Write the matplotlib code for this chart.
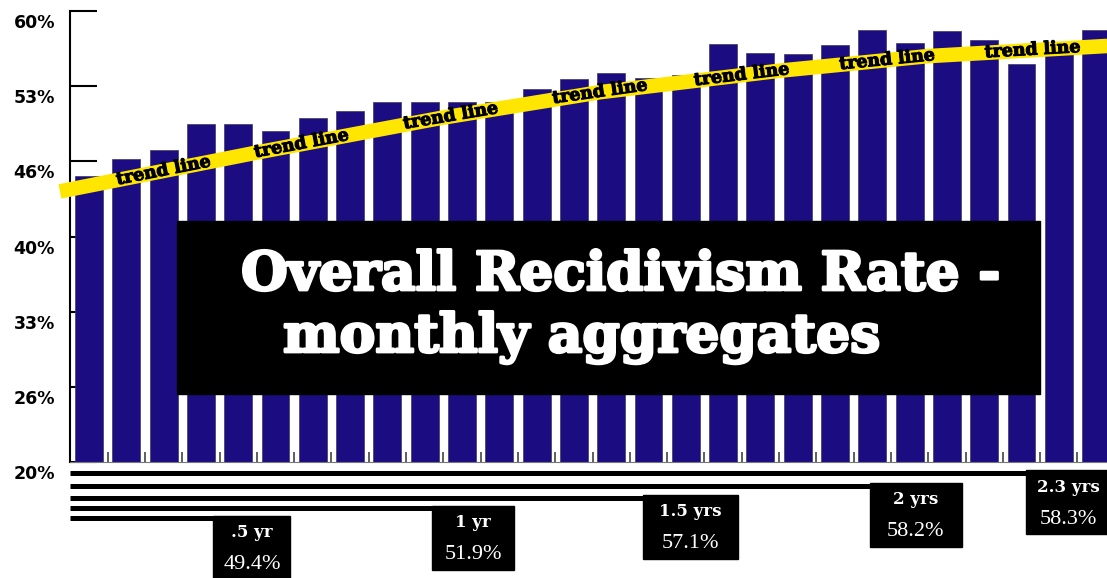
import matplotlib
matplotlib.use("Agg")
import matplotlib.pyplot as plt
import matplotlib.transforms as mtransforms
import matplotlib.patheffects as pe
from matplotlib.patches import Rectangle
import numpy as np

# monthly aggregate recidivism rate (%), months 1..28
months = np.arange(1, 29)
rates = [45.4, 46.9, 47.7, 50.0, 50.0, 49.4, 50.5, 51.1, 51.9, 51.9,
         51.9, 51.9, 53.1, 54.0, 54.5, 54.1, 54.3, 57.1, 56.3, 56.2,
         57.0, 58.3, 57.2, 58.2, 57.4, 55.3, 57.1, 58.3]

# trend line
trend_months = [0.22, 5.58, 10.41, 14.7, 19.5, 23.5, 28.3]
trend_rates = [44.0, 47.5, 50.5, 52.8, 54.7, 56.0, 56.9]
trend_label_months = [3.0, 6.7, 10.7, 14.7, 18.5, 22.4, 26.3]

ytick_values = [20, 80 / 3, 100 / 3, 40, 140 / 3, 160 / 3, 60]
ytick_labels = ["20%", "26%", "33%", "40%", "46%", "53%", "60%"]

milestone_months = [6, 12, 18, 24, 28]
milestone_labels = [".5 yr", "1 yr", "1.5 yrs", "2 yrs", "2.3 yrs"]

title_lines = ["Overall Recidivism Rate -", "monthly aggregates"]

# layout (pixels)
W, H = 1107, 578
NAVY = "#1b0c82"
YELLOW = "#ffe600"
pitch = 37.3
stair_y = [56, 46, 35.5, 23.5, 10.5]
box_w_px = [77, 82, 95, 92, 85]


def px_rect(x0, y0, x1, y1):
    return [x0 / W, 1 - y1 / H, (x1 - x0) / W, (y1 - y0) / H]


fig = plt.figure(figsize=(W / 100, H / 100), dpi=100)
fig.patch.set_facecolor("white")

ax = fig.add_axes(px_rect(70, 11, 1107, 462))
m_left = 1 - 19 / pitch
m_right = 1 + (1107 - 89) / pitch
ax.set_xlim(m_left, m_right)
ax.set_ylim(20, 60)
ax.set_axisbelow(True)

ax.bar(months, rates, width=0.75, color=NAVY, edgecolor="#3c3a5c",
       linewidth=0.5, zorder=2)

for s in ["top", "right"]:
    ax.spines[s].set_visible(False)
ax.spines["left"].set_linewidth(1.5)
ax.spines["bottom"].set_linewidth(0.8)
ax.spines["bottom"].set_color("#777777")

ax.set_yticks(ytick_values, ytick_labels)
ax.tick_params(axis="y", direction="in", length=19.5, width=1.5, pad=10.8,
               labelsize=12.5)
offset = mtransforms.ScaledTranslation(0, -0.1, fig.dpi_scale_trans)
for lab in ax.get_yticklabels():
    lab.set_fontweight("bold")
    lab.set_transform(lab.get_transform() + offset)

ax.set_xticks(months[:-1] + 0.5)
ax.tick_params(axis="x", direction="in", length=7, width=1.2,
               color="#444444", labelbottom=False)

# trend band
ax.plot(trend_months, trend_rates, color=YELLOW, lw=10.5,
        solid_capstyle="butt", clip_on=False, zorder=3)
for m in trend_label_months:
    y = np.interp(m, trend_months, trend_rates)
    p1 = ax.transData.transform((m - 0.5, np.interp(m - 0.5, trend_months, trend_rates)))
    p2 = ax.transData.transform((m + 0.5, np.interp(m + 0.5, trend_months, trend_rates)))
    ang = np.degrees(np.arctan2(p2[1] - p1[1], p2[0] - p1[0]))
    ax.text(m, y, "trend line", rotation=ang, rotation_mode="anchor",
            ha="center", va="center", family="DejaVu Serif",
            fontweight="bold", fontsize=12.5, color="black", zorder=4,
            path_effects=[pe.withStroke(linewidth=0.8, foreground="black")])

# title box
fig.add_artist(Rectangle((177 / W, 1 - 394 / H), (1040 - 177) / W,
                         (394 - 221) / H, transform=fig.transFigure,
                         color="black", zorder=5))
title_fx = [pe.withStroke(linewidth=2, foreground="white")]
fig.text(621 / W, 1 - 290 / H, title_lines[0], color="white", fontsize=38.5,
         family="DejaVu Serif", fontweight="bold", ha="center",
         va="baseline", zorder=6, path_effects=title_fx)
fig.text(582 / W, 1 - 352 / H, title_lines[1], color="white", fontsize=38.5,
         family="DejaVu Serif", fontweight="bold", ha="center",
         va="baseline", zorder=6, path_effects=title_fx)

# stair lines + milestone boxes
ax2 = fig.add_axes(px_rect(70, 462, 1107, 578))
ax2.set_xlim(m_left, m_right)
ax2.set_ylim(116, 0)
ax2.axis("off")
for i, m in enumerate(milestone_months):
    right = m + 0.4
    w = box_w_px[i] / pitch
    y = stair_y[i]
    ax2.hlines(y, m_left, right - w / 2, color="black", lw=3.6)
    top = y - 2.5
    ax2.add_patch(Rectangle((right - w, top), w, 64, color="black"))
    cx = right - w / 2
    ax2.text(cx, top + 17, milestone_labels[i], ha="center", va="center",
             color="white", family="DejaVu Serif", fontweight="bold",
             fontsize=12)
    ax2.text(cx, top + 49, f"{rates[m - 1]:.1f}%", ha="center",
             va="center", color="white", family="Liberation Serif",
             fontsize=16)

fig.savefig("out.png", dpi=100)
